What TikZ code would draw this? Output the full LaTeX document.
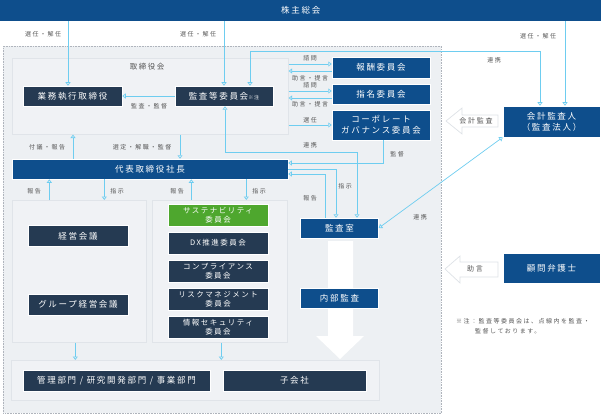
\documentclass[tikz,border=0pt]{standalone}
\usepackage{fontspec}
\setmainfont{Noto Sans CJK JP}
\newfontfamily\boxfont[LetterSpace=20]{Noto Sans CJK JP}
\newfontfamily\labelfont[LetterSpace=25]{Noto Sans CJK JP}
\usepackage{xcolor}
\usetikzlibrary{arrows.meta}
\definecolor{corpblue}{RGB}{14,78,140}
\definecolor{navy}{RGB}{37,58,82}
\definecolor{leafgreen}{RGB}{78,167,46}
\definecolor{flowblue}{RGB}{110,205,240}
\definecolor{outerfill}{RGB}{237,240,243}
\definecolor{regionfill}{RGB}{240,242,245}
\definecolor{regionline}{RGB}{224,228,233}
\definecolor{dotgray}{RGB}{175,180,188}
\definecolor{labelgray}{RGB}{85,85,85}
\definecolor{hollowline}{RGB}{222,226,231}
\tikzset{
    every node/.style={inner sep=0pt},
    bluebox/.style={rectangle, fill=corpblue, draw=white, line width=0.5pt, text=white, align=center,
        font=\boxfont\fontsize{8.5}{11}\selectfont},
    navybox/.style={bluebox, fill=navy},
    greenbox/.style={bluebox, fill=leafgreen},
    cmtbox/.style={navybox, minimum width=100pt, minimum height=22pt, font=\boxfont\fontsize{7.5}{9}\selectfont},
    region/.style={rectangle, fill=regionfill, draw=regionline, line width=0.6pt, anchor=north west},
    outerregion/.style={rectangle, fill=outerfill, draw=dotgray, densely dotted, line width=0.6pt, anchor=north west},
    flow/.style={draw=flowblue, line width=0.7pt},
    oneway/.style={-{Triangle[open,length=3.5pt,width=5pt]}},
    twoway/.style={{Triangle[open,length=3.5pt,width=5pt]}-{Triangle[open,length=3.5pt,width=5pt]}},
    lbl/.style={text=labelgray, font=\labelfont\fontsize{6}{7}\selectfont},
    hollow/.style={fill=white, draw=hollowline, line width=0.7pt},
    hollowtext/.style={text=labelgray, font=\labelfont\fontsize{7}{8}\selectfont}
}

\begin{document}
\begin{tikzpicture}[x=1pt, y=-1pt]
    \useasboundingbox (0,0) rectangle (601,414);

    \node[bluebox, minimum width=601pt, minimum height=21pt, anchor=north west, draw=none] (agm) at (0,0) {株主総会};

    %%%%%% regions
    \node[outerregion, minimum width=438pt, minimum height=367pt] (outer) at (3,46) {};
    \node[region, minimum width=276pt, minimum height=76pt] (board) at (12,58) {};
    \node[text=labelgray, font=\boxfont\fontsize{7.5}{9}\selectfont] (boardlbl) at (147,67) {取締役会};
    \node[region, minimum width=134pt, minimum height=142pt] (leftreg) at (12,200) {};
    \node[region, minimum width=135pt, minimum height=142pt] (midreg) at (152,200) {};
    \node[region, minimum width=368pt, minimum height=40pt] (bottomreg) at (11,360) {};

    % internal audit arrow
    \fill[white] (328,241) -- (353,241) -- (353,336) -- (364,336) -- (340,359) -- (316,336) -- (328,336) -- cycle;

    %%%%%% boxes
    \node[navybox, minimum width=99pt, minimum height=20pt] (exec) at (72.5,96) {業務執行取締役};
    \node[navybox, minimum width=98pt, minimum height=20pt] (acom) at (224,96) {監査等委員会{\fontsize{5}{6}\selectfont ※注}};
    \node[bluebox, minimum width=98pt, minimum height=21pt] (comp) at (381,67.5) {報酬委員会};
    \node[bluebox, minimum width=98pt, minimum height=20pt] (nomi) at (381,94) {指名委員会};
    \node[bluebox, minimum width=98pt, minimum height=30pt] (cg) at (381,125) {コーポレート\\ガバナンス委員会};
    \node[bluebox, minimum width=276pt, minimum height=20pt] (pres) at (150,169) {代表取締役社長};
    \node[bluebox, minimum width=78pt, minimum height=20pt] (audit) at (339.5,228) {監査室};
    \node[bluebox, minimum width=78pt, minimum height=20pt] (intaudit) at (339.5,298) {内部監査};
    \node[bluebox, minimum width=97pt, minimum height=31pt] (kaikei) at (551.5,121.5) {会計監査人\\（監査法人）};
    \node[bluebox, minimum width=97pt, minimum height=30pt] (lawyer) at (551.5,268) {顧問弁護士};

    \node[navybox, minimum width=100pt, minimum height=21pt] (keiei) at (78,236) {経営会議};
    \node[navybox, minimum width=100pt, minimum height=21pt] (group) at (78,304.5) {グループ経営会議};

    \node[cmtbox, fill=leafgreen] (sus) at (218,215) {サステナビリティ\\委員会};
    \node[cmtbox] (dx) at (218,243) {DX推進委員会};
    \node[cmtbox] (compl) at (218,271) {コンプライアンス\\委員会};
    \node[cmtbox] (risk) at (218,299) {リスクマネジメント\\委員会};
    \node[cmtbox] (info) at (218,327) {情報セキュリティ\\委員会};

    \node[navybox, minimum width=187pt, minimum height=21pt] (depts) at (116.5,380.5) {管理部門 / 研究開発部門 / 事業部門};
    \node[navybox, minimum width=143pt, minimum height=21pt] (subs) at (294.5,380.5) {子会社};

    %%%%%% from shareholders
    \draw[flow, oneway] ([xshift=-4.5pt]exec.north |- agm.south) -- ([xshift=-4.5pt]exec.north);
    \node[lbl] (l1) at (43,34) {選任・解任};
    \draw[flow, oneway] (acom.north |- agm.south) -- (acom.north);
    \node[lbl] (l2) at (198,34) {選任・解任};
    \draw[flow, oneway] ([xshift=13.5pt]kaikei.north |- agm.south) -- ([xshift=13.5pt]kaikei.north);
    \node[lbl] (l3) at (538,36) {選任・解任};

    \coordinate (linkrow) at (0,51);
    \draw[flow, twoway] ([xshift=-11.5pt]kaikei.north) -- ([xshift=-11.5pt]kaikei.north |- linkrow)
        -- ([xshift=26pt]acom.north |- linkrow) -- ([xshift=26pt]acom.north);
    \node[lbl] (l4) at (494,60) {連携};

    \draw[flow, oneway] (acom.west) -- (exec.east);
    \node[lbl] (l5) at (149,106) {監査・監督};

    %%%%%% board and committees
    \draw[flow, oneway] ([yshift=3.5pt]comp.west -| board.east) -- ([yshift=3.5pt]comp.west);
    \node[lbl] (l6) at (310,58) {諮問};
    \draw[flow, oneway] ([yshift=-3.5pt]comp.west) -- ([yshift=-3.5pt]comp.west -| board.east);
    \node[lbl] (l7) at (310,78) {助言・提言};
    \draw[flow, oneway] ([yshift=3pt]nomi.west -| board.east) -- ([yshift=3pt]nomi.west);
    \node[lbl] (l8) at (310,85) {諮問};
    \draw[flow, oneway] ([yshift=-4pt]nomi.west) -- ([yshift=-4pt]nomi.west -| board.east);
    \node[lbl] (l9) at (310,104) {助言・提言};
    \draw[flow, oneway] (cg.west -| board.east) -- (cg.west);
    \node[lbl] (l10) at (310,120) {選任};

    %%%%%% board and president
    \draw[flow, oneway] ([xshift=-77pt]pres.north) -- ([xshift=-77pt]pres.north |- board.south);
    \node[lbl] (l11) at (47,147) {付議・報告};
    \draw[flow, oneway] ([xshift=30pt]pres.north |- board.south) -- ([xshift=30pt]pres.north);
    \node[lbl] (l12) at (142,147) {選定・解職・監督};

    %%%%%% audit office
    \coordinate (auditrow) at (0,152);
    \draw[flow, twoway] ([xshift=1pt]acom.south) -- ([xshift=1pt]acom.south |- auditrow)
        -- ([xshift=17.5pt]audit.north |- auditrow) -- ([xshift=17.5pt]audit.north);
    \node[lbl] (l13) at (310,145) {連携};

    \coordinate (superrow) at (0,163);
    \draw[flow, oneway] ([xshift=2pt]cg.south) -- ([xshift=2pt]cg.south |- superrow) -- (pres.east |- superrow);
    \node[lbl] (l14) at (397,154) {監督};

    \draw[flow, oneway] (pres.east) -- ([xshift=-3.5pt]audit.north |- pres.east) -- ([xshift=-3.5pt]audit.north);
    \node[lbl] (l15) at (345,186) {指示};

    \coordinate (reportrow) at (0,174);
    \draw[flow, oneway] ([xshift=-14.5pt]audit.north) -- ([xshift=-14.5pt]audit.north |- reportrow) -- (pres.east |- reportrow);
    \node[lbl] (l16) at (310,198) {報告};

    \draw[flow, twoway] (audit.east) -- (kaikei.south west);
    \node[lbl] (l17) at (420,217) {連携};

    %%%%%% president and meetings
    \draw[flow, oneway] ([xshift=-30pt]leftreg.north) -- ([xshift=-30pt]leftreg.north |- pres.south);
    \node[lbl] (l18) at (34,191) {報告};
    \draw[flow, oneway] ([xshift=25pt]leftreg.north |- pres.south) -- ([xshift=25pt]leftreg.north);
    \node[lbl] (l19) at (117,191) {指示};
    \draw[flow, oneway] ([xshift=-28.5pt]midreg.north) -- ([xshift=-28.5pt]midreg.north |- pres.south);
    \node[lbl] (l20) at (177,191) {報告};
    \draw[flow, oneway] ([xshift=26.5pt]midreg.north |- pres.south) -- ([xshift=26.5pt]midreg.north);
    \node[lbl] (l21) at (259,191) {指示};

    \draw[flow, oneway] ([xshift=-4pt]leftreg.south) -- ([xshift=-4pt]leftreg.south |- bottomreg.north);
    \draw[flow, oneway] ([xshift=1.5pt]midreg.south) -- ([xshift=1.5pt]midreg.south |- bottomreg.north);

    %%%%%% outside
    \draw[hollow] (446,121) -- (462,108) -- (462,115) -- (498,115) -- (498,127) -- (462,127) -- (462,134) -- cycle;
    \node[hollowtext] (acctlbl) at (476,121) {会計監査};
    \draw[hollow] (445,269) -- (460,256) -- (460,262) -- (498,262) -- (498,277) -- (460,277) -- (460,283) -- cycle;
    \node[hollowtext] (advlbl) at (475,269) {助言};

    \node[lbl, anchor=west] (note1) at (456,321) {※注：監査等委員会は、点線内を監査・};
    \node[lbl, anchor=west] (note2) at (475,331) {監督しております。};
\end{tikzpicture}
\end{document}
